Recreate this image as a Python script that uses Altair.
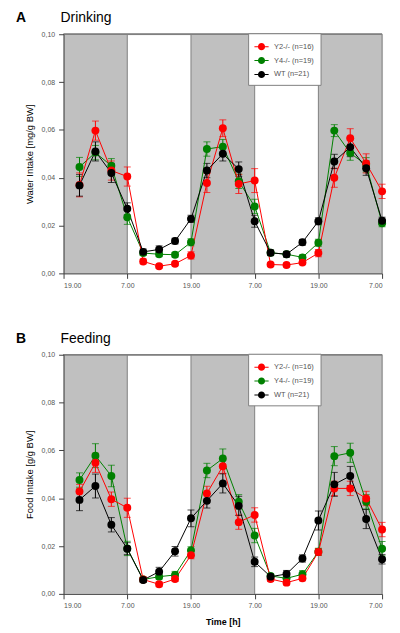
import altair as alt
import pandas as pd

FONT = "Liberation Sans"

# ---------------- data ----------------
hours = [3, 6, 9, 12, 15, 18, 21, 24, 27, 30, 33, 36, 39, 42, 45, 48, 51, 54, 57, 60]
series = ["Y2-/- (n=16)", "Y4-/- (n=19)", "WT (n=21)"]
colors = ["#ff0000", "#008000", "#000000"]
draw_order = ["Y4-/- (n=19)", "Y2-/- (n=16)", "WT (n=21)"]

tick_hours = [0, 12, 24, 36, 48, 60]
tick_labels = ["19.00", "7.00", "19.00", "7.00", "19.00", "7.00"]
y_ticks = [0.0, 0.02, 0.04, 0.06, 0.08, 0.10]
dark_start = [0, 24, 48]
dark_end = [12, 36, 60]
boundary_hours = [12, 24, 36, 48, 60]

# Panel A: water intake [mg/g BW]
water_y2 = [0.037, 0.0597, 0.043, 0.0405, 0.005, 0.003, 0.004, 0.0075, 0.0378, 0.0607,
            0.0374, 0.0388, 0.0037, 0.0035, 0.0045, 0.0085, 0.040, 0.0565, 0.046, 0.0343]
water_y2_err = [0.005, 0.004, 0.004, 0.004, 0.001, 0.0008, 0.0008, 0.0015, 0.004, 0.0035,
                0.004, 0.005, 0.0008, 0.0008, 0.0008, 0.0015, 0.004, 0.004, 0.004, 0.003]
water_y4 = [0.0445, 0.0505, 0.045, 0.0235, 0.0085, 0.008, 0.0078, 0.013, 0.052, 0.053,
            0.0385, 0.028, 0.0086, 0.008, 0.0067, 0.0128, 0.0597, 0.0503, 0.0454, 0.021]
water_y4_err = [0.004, 0.003, 0.003, 0.003, 0.001, 0.001, 0.001, 0.0015, 0.003, 0.003,
                0.003, 0.003, 0.001, 0.001, 0.001, 0.0015, 0.0025, 0.003, 0.003, 0.0015]
water_wt = [0.0368, 0.051, 0.042, 0.027, 0.009, 0.010, 0.0135, 0.0228, 0.043, 0.050,
            0.0436, 0.0218, 0.0086, 0.008, 0.013, 0.0218, 0.0468, 0.0528, 0.044, 0.022]
water_wt_err = [0.0045, 0.004, 0.004, 0.0025, 0.0012, 0.0015, 0.0012, 0.0015, 0.003, 0.003,
                0.003, 0.0025, 0.0012, 0.0012, 0.0012, 0.0015, 0.003, 0.004, 0.003, 0.0015]

# Panel B: food intake [g/g BW]
food_y2 = [0.0428, 0.0548, 0.0396, 0.036, 0.006, 0.004, 0.0062, 0.0162, 0.042, 0.0534,
           0.030, 0.033, 0.0062, 0.0047, 0.0065, 0.0175, 0.0441, 0.0441, 0.0399, 0.0269]
food_y2_err = [0.003, 0.004, 0.003, 0.004, 0.001, 0.001, 0.001, 0.0015, 0.003, 0.003,
               0.003, 0.003, 0.001, 0.001, 0.001, 0.0015, 0.003, 0.003, 0.003, 0.003]
food_y4 = [0.0476, 0.0578, 0.0493, 0.019, 0.006, 0.0072, 0.0079, 0.0182, 0.0516, 0.0566,
           0.0385, 0.0244, 0.0075, 0.0065, 0.0082, 0.0176, 0.0576, 0.059, 0.0385, 0.0189]
food_y4_err = [0.003, 0.005, 0.0045, 0.003, 0.001, 0.001, 0.0015, 0.0015, 0.003, 0.004,
               0.003, 0.003, 0.001, 0.001, 0.0015, 0.0015, 0.004, 0.004, 0.003, 0.003]
food_wt = [0.0393, 0.0451, 0.0289, 0.0189, 0.0058, 0.0093, 0.0178, 0.0316, 0.0389, 0.0462,
           0.0368, 0.0134, 0.0072, 0.0083, 0.0148, 0.0307, 0.0458, 0.0493, 0.0313, 0.0145]
food_wt_err = [0.0045, 0.005, 0.003, 0.0025, 0.001, 0.0018, 0.002, 0.0035, 0.003, 0.004,
               0.004, 0.002, 0.001, 0.0015, 0.0015, 0.004, 0.005, 0.004, 0.004, 0.002]


def make_df(vals):
    rows = []
    for s in draw_order:
        m, e = vals[s]
        for h, mv, ev in zip(hours, m, e):
            rows.append({"hour": h, "series": s, "mean": mv, "lo": mv - ev, "hi": mv + ev})
    return pd.DataFrame(rows)


water_df = make_df({series[0]: (water_y2, water_y2_err),
                    series[1]: (water_y4, water_y4_err),
                    series[2]: (water_wt, water_wt_err)})
food_df = make_df({series[0]: (food_y2, food_y2_err),
                   series[1]: (food_y4, food_y4_err),
                   series[2]: (food_wt, food_wt_err)})
dark_df = pd.DataFrame({"start": dark_start, "end": dark_end})
bound_df = pd.DataFrame({"hour": boundary_hours})

label_expr = "[" + ",".join("'%s'" % t for t in tick_labels) + "][round(datum.value/12)]"
# legend symbol: thin filled bar with a filled circle in the middle (line + marker)
LEG_PATH = ("M-1,-0.07L1,-0.07L1,0.07L-1,0.07Z"
            "M-0.5,0A0.5,0.5,0,1,1,0.5,0A0.5,0.5,0,1,1,-0.5,0Z")

W, H = 321, 241


def panel(df, letter, name, ytitle, xtitle):
    xs = alt.Scale(domain=[0, 60], nice=False, zero=False)
    ys = alt.Scale(domain=[0, 0.1], nice=False)
    xaxis = alt.Axis(values=tick_hours, labelExpr=label_expr, title=xtitle, grid=False,
                     labelFontSize=7, labelColor="#555555", labelFont=FONT,
                     tickSize=5, tickColor="#404040", domainColor="#404040",
                     labelPadding=3, titleFontSize=9, titleFontWeight="bold",
                     titleFont=FONT, titleColor="#000000", titlePadding=9, zindex=1)
    yaxis = alt.Axis(values=y_ticks, labelExpr="replace(format(datum.value, '.2f'), '.', ',')",
                     title=ytitle, grid=False, labelFontSize=7, labelColor="#555555",
                     labelFont=FONT, tickSize=5, tickColor="#404040", domainColor="#404040",
                     labelPadding=4, titleFontSize=9.5, titleFontWeight="normal",
                     titleFont=FONT, titleColor="#000000", titlePadding=7, zindex=1)

    def X(f):
        return alt.X(f, type="quantitative", scale=xs, axis=xaxis)

    def Y(f):
        return alt.Y(f, type="quantitative", scale=ys, axis=yaxis)

    cscale = alt.Scale(domain=series, range=colors)
    legend = alt.Legend(title=None, orient="none", legendX=186, legendY=-1,
                        fillColor="white", strokeColor="#808080", padding=6,
                        labelFontSize=7.5, labelColor="#555555", labelFont=FONT,
                        symbolType=LEG_PATH, symbolSize=205, symbolStrokeWidth=0,
                        symbolOpacity=1, rowPadding=2, labelOffset=5, cornerRadius=0)

    bg = alt.Chart(dark_df).mark_rect(color="#c0c0c0").encode(
        x=X("start"), x2="end", y=alt.datum(0.1), y2=alt.datum(0.0))
    vlines = alt.Chart(bound_df).mark_rule(color="#808080", strokeWidth=1).encode(
        x=X("hour"), y=alt.datum(0.0), y2=alt.datum(0.1))
    top = alt.Chart(bound_df).mark_rule(color="#808080", strokeWidth=1).encode(
        x=alt.datum(0), x2=alt.datum(60), y=alt.datum(0.1))

    base = alt.Chart(df)
    bars = []
    for s in draw_order:
        c = colors[series.index(s)]
        sd = base.transform_filter(alt.datum.series == s)
        bars.append(sd.mark_rule(strokeWidth=1, color=c).encode(x=X("hour"), y=Y("lo"), y2="hi"))
        bars.append(sd.mark_tick(orient="horizontal", size=7, thickness=1, color=c).encode(
            x=X("hour"), y=Y("lo")))
        bars.append(sd.mark_tick(orient="horizontal", size=7, thickness=1, color=c).encode(
            x=X("hour"), y=Y("hi")))

    lines = []
    for s in draw_order:
        c = colors[series.index(s)]
        lines.append(base.transform_filter(alt.datum.series == s)
                     .mark_line(color=c, strokeWidth=1).encode(x=X("hour"), y=Y("mean")))

    pts = base.mark_circle(size=64, opacity=1).encode(
        x=X("hour"), y=Y("mean"),
        color=alt.Color("series:N", scale=cscale, legend=legend))

    tdf = pd.DataFrame({"letter": [letter], "name": [name]})
    t1 = alt.Chart(tdf).mark_text(align="left", baseline="alphabetic", fontSize=14,
                                  fontWeight="bold", font=FONT, color="black").encode(
        x=alt.value(-48), y=alt.value(-12), text="letter:N")
    t2 = alt.Chart(tdf).mark_text(align="left", baseline="alphabetic", fontSize=14,
                                  fontWeight="normal", font=FONT, color="black").encode(
        x=alt.value(-3), y=alt.value(-12), text="name:N")

    return alt.layer(bg, vlines, top, *bars, *lines, pts, t1, t2).properties(
        width=W, height=H)


pA = panel(water_df, "A", "Drinking", "Water Intake [mg/g BW]", "")
pB = panel(food_df, "B", "Feeding", "Food Intake [g/g BW]", "Time [h]")

chart = (
    alt.vconcat(pA, pB, spacing=42)
    .resolve_scale(color="independent")
    .resolve_legend(color="independent")
    .properties(padding={"left": 7, "top": 0, "right": 5, "bottom": 5})
    .configure_view(stroke=None)
    .configure(font=FONT)
)

chart.save("out.html", embed_options={"renderer": "svg", "actions": False})
